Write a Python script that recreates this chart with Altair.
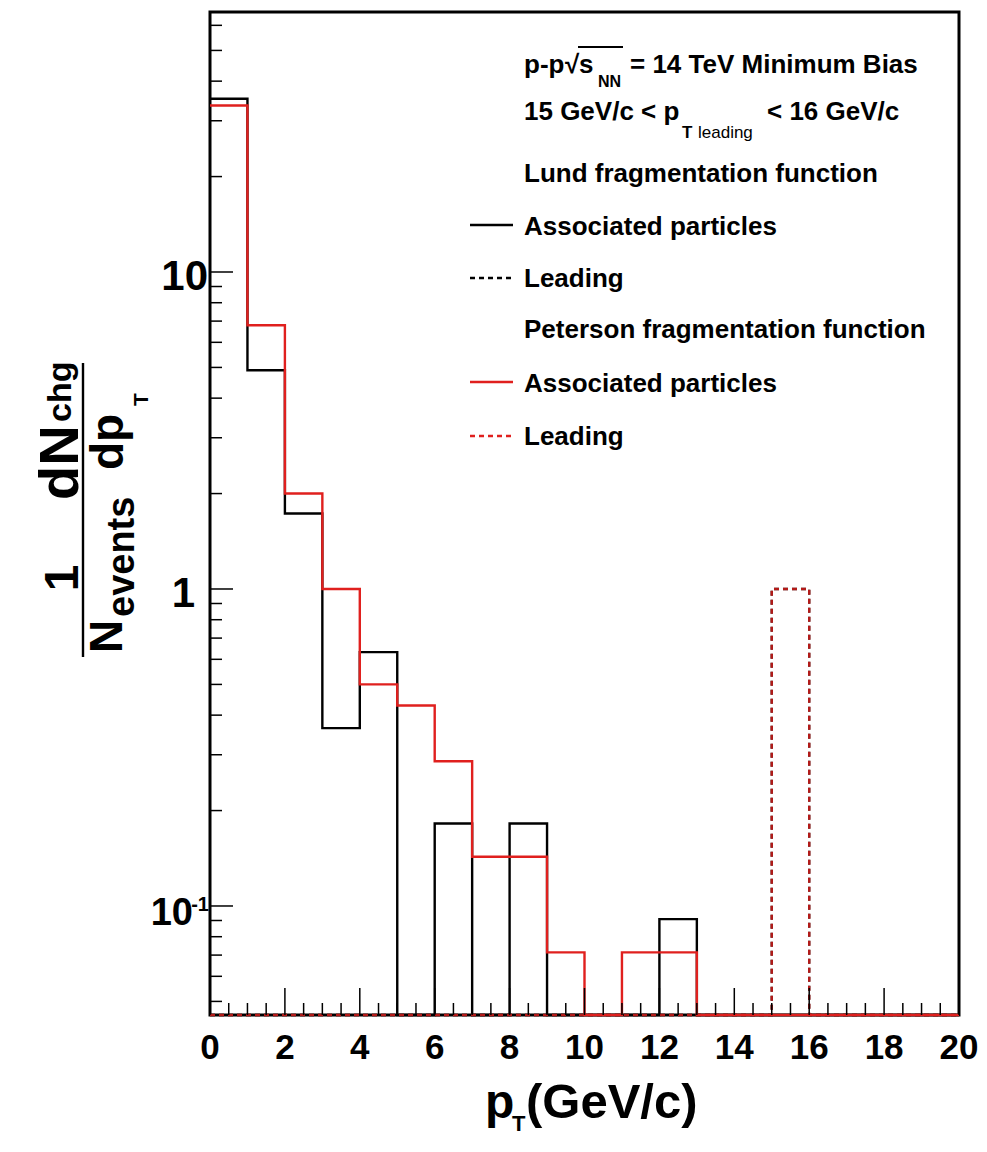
import altair as alt
import pandas as pd

# ---------------- data ----------------
bin_edges = list(range(0, 21))  # 1 GeV/c bins from 0 to 20
lund_assoc = [35.2, 4.9, 1.73, 0.364, 0.632, 0.0, 0.182, 0.0, 0.182, 0.0,
              0.0, 0.0, 0.0909, 0.0, 0.0, 0.0, 0.0, 0.0, 0.0, 0.0]
peterson_assoc = [33.5, 6.79, 2.0, 1.0, 0.5, 0.429, 0.286, 0.143, 0.143, 0.0714,
                  0.0, 0.0714, 0.0714, 0.0, 0.0, 0.0, 0.0, 0.0, 0.0, 0.0]
lund_leading = [0.0] * 15 + [1.0] + [0.0] * 4
peterson_leading = [0.0] * 15 + [1.0] + [0.0] * 4

x_major_ticks = [0, 2, 4, 6, 8, 10, 12, 14, 16, 18, 20]
x_tick_labels = ["0", "2", "4", "6", "8", "10", "12", "14", "16", "18", "20"]
x_minor_ticks = [0.5, 1, 1.5, 2.5, 3, 3.5, 4.5, 5, 5.5, 6.5, 7, 7.5, 8.5, 9, 9.5,
                 10.5, 11, 11.5, 12.5, 13, 13.5, 14.5, 15, 15.5, 16.5, 17, 17.5,
                 18.5, 19, 19.5]
y_major_ticks = [0.1, 1, 10]
y_minor_ticks = [0.05, 0.06, 0.07, 0.08, 0.09,
                 0.2, 0.3, 0.4, 0.5, 0.6, 0.7, 0.8, 0.9,
                 2, 3, 4, 5, 6, 7, 8, 9,
                 20, 30, 40, 50, 60]

# ---------------- layout ----------------
W, H = 749, 1003
YMIN, YMAX = 0.0453, 66.1
RED = "#e0201e"
FONT = "Liberation Sans"
TICKFONT = "Liberation Sans"

XS = alt.Scale(domain=[0, 20], nice=False, zero=False)
YS = alt.Scale(type="log", domain=[YMIN, YMAX], nice=False, clamp=True)
ONE = alt.Data(values=[{"k": 0}])


def hist(vals, color, **kw):
    df = pd.DataFrame({"x": bin_edges, "v": vals + [vals[-1]]})
    return (
        alt.Chart(df)
        .transform_calculate(vy=f"max(datum.v, {YMIN})")
        .mark_line(interpolate="step-after", color=color, strokeWidth=2.4, **kw)
        .encode(x=alt.X("x:Q", scale=XS, axis=None),
                y=alt.Y("vy:Q", scale=YS, axis=None))
    )


def txt(s, x, y, size, angle=0, align="left", weight="bold", font=FONT, color="black"):
    return (
        alt.Chart(ONE)
        .mark_text(text=s, fontSize=size, font=font, fontWeight=weight, angle=angle,
                   align=align, baseline="alphabetic", color=color)
        .encode(x=alt.value(x), y=alt.value(y))
    )


def seg(x1, y1, x2, y2, color="black", width=2.4, **kw):
    return (
        alt.Chart(ONE)
        .mark_rule(color=color, strokeWidth=width, **kw)
        .encode(x=alt.value(x1), x2=alt.value(x2), y=alt.value(y1), y2=alt.value(y2))
    )


layers = []

# histograms (zero bins sit on the lower frame edge, as in ROOT)
layers.append(hist(lund_assoc, "black"))
layers.append(hist(lund_leading, "black", strokeDash=[5, 4]))
layers.append(hist(peterson_assoc, RED))
layers.append(hist(peterson_leading, RED, strokeDash=[5, 4], opacity=0.8))


# inward ticks
def xticks(vals, length):
    return (alt.Chart(pd.DataFrame({"t": vals}))
            .mark_rule(color="black", strokeWidth=1.5)
            .encode(x=alt.X("t:Q", scale=XS, axis=None),
                    y=alt.value(H), y2=alt.value(H - length)))


def yticks(vals, length):
    return (alt.Chart(pd.DataFrame({"t": vals}))
            .mark_rule(color="black", strokeWidth=1.5)
            .encode(y=alt.Y("t:Q", scale=YS, axis=None),
                    x=alt.value(0), x2=alt.value(length)))


layers += [xticks(x_major_ticks, 27), xticks(x_minor_ticks, 12),
           yticks(y_major_ticks, 23), yticks(y_minor_ticks, 12)]

# x tick labels
layers.append(
    alt.Chart(pd.DataFrame({"t": x_major_ticks, "lab": x_tick_labels}))
    .mark_text(font=TICKFONT, fontSize=35, fontWeight="bold", align="center",
               baseline="alphabetic")
    .encode(x=alt.X("t:Q", scale=XS, axis=None), y=alt.value(1047), text="lab:N")
)


# y tick labels
def ylab(value, label, dx, dy, size):
    return (alt.Chart(pd.DataFrame({"t": [value], "lab": [label]}))
            .mark_text(font=TICKFONT, fontSize=size, fontWeight="bold", align="right",
                       baseline="alphabetic", dy=dy)
            .encode(y=alt.Y("t:Q", scale=YS, axis=None), x=alt.value(dx), text="lab:N"))


layers += [ylab(10, "10", -2, 18, 42), ylab(1, "1", -15, 18, 42),
           ylab(0.1, "10", -17, 19, 38), ylab(0.1, "-1", -1, 5, 20)]

# x title  p_T(GeV/c)
layers += [txt("p", 275, 1106, 48), txt("T", 302, 1119, 22),
           txt("(GeV/c)", 316, 1106, 49)]

# y title  1/N_events dN_chg/dp_T (rotated)
layers += [
    txt("1", -132, 566, 48, angle=270, align="center"),
    txt("dN", -132, 488, 56, angle=270),
    txt("chg", -139, 410, 34, angle=270),
    seg(-127, 351, -127, 645),
    txt("N", -88, 641, 46, angle=270),
    txt("events", -76, 605, 38, angle=270),
    txt("dp", -87, 458, 46, angle=270),
    txt("T", -62, 394, 21, angle=270),
]

# legend / annotation block
LS = 26
layers += [
    txt("p-p", 314, 61, LS),
    txt("\u221a", 355, 61, LS),
    seg(368, 35, 413, 35, width=2),
    txt("s", 369, 61, LS),
    txt("NN", 388, 75, 16),
    txt("= 14 TeV Minimum Bias", 420, 61, LS),
    txt("15 GeV/c < p", 314, 108, LS),
    txt("T", 472, 126, 17),
    txt("leading", 488, 126, 17, weight="normal"),
    txt("< 16 GeV/c", 557, 108, LS),
    txt("Lund fragmentation function", 314, 170, LS),
    seg(260, 213, 303, 213, color="black", width=2.4),
    txt("Associated particles", 314, 223, LS),
    seg(260, 266, 303, 266, color="black", width=2.4, strokeDash=[5, 4]),
    txt("Leading", 314, 275, LS),
    txt("Peterson fragmentation function", 314, 326, LS),
    seg(260, 370, 303, 370, color=RED, width=2.4),
    txt("Associated particles", 314, 380, LS),
    seg(260, 424, 303, 424, color=RED, width=2.4, strokeDash=[5, 4]),
    txt("Leading", 314, 433, LS),
]

chart = (
    alt.layer(*layers)
    .properties(width=W, height=H, autosize=alt.AutoSizeParams(type="none"),
                padding={"left": 202, "top": 4, "right": 20, "bottom": 123},
                background="white")
    .configure_view(stroke="black", strokeWidth=3)
)

chart.save("out.html", embed_options={"renderer": "svg", "actions": False})
